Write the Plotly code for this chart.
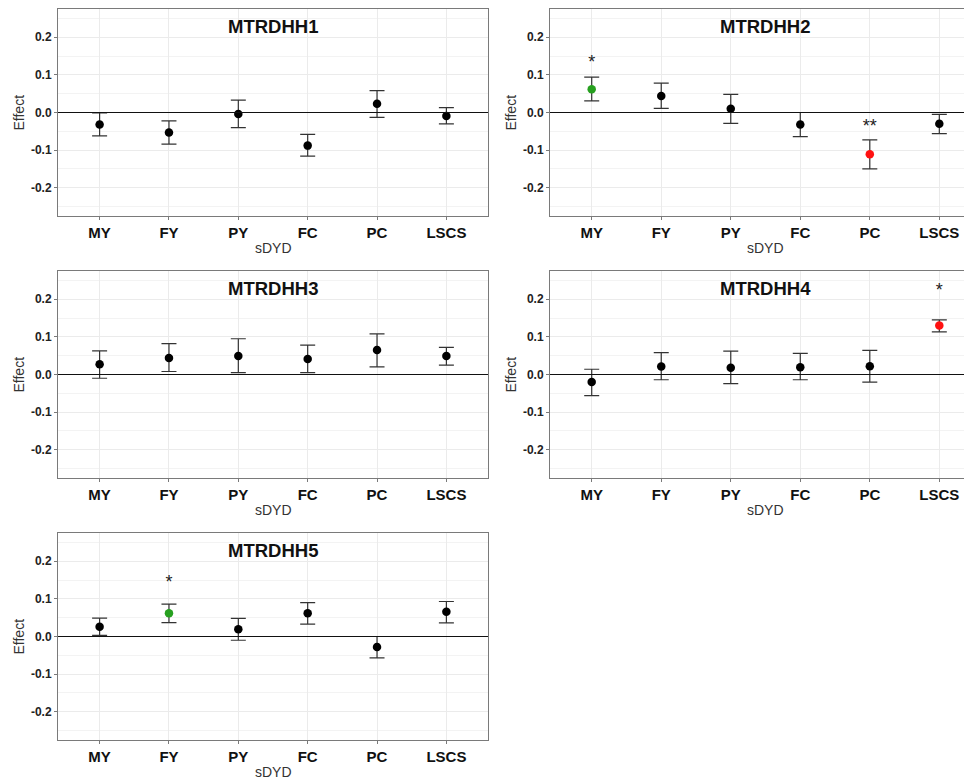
import plotly.graph_objects as go

# ---------------- data ----------------
CATEGORIES = ["MY", "FY", "PY", "FC", "PC", "LSCS"]
PANEL_NAMES = ["MTRDHH1", "MTRDHH2", "MTRDHH3", "MTRDHH4", "MTRDHH5"]

MTRDHH1_EFFECT = [-0.032, -0.053, -0.004, -0.088, 0.023, -0.009]
MTRDHH1_UPPER = [-0.001, -0.022, 0.033, -0.058, 0.058, 0.013]
MTRDHH1_LOWER = [-0.062, -0.084, -0.040, -0.116, -0.013, -0.030]
MTRDHH1_GROUP = ["", "", "", "", "", ""]
MTRDHH1_STAR = ["", "", "", "", "", ""]
MTRDHH1_STAR_Y = [None, None, None, None, None, None]

MTRDHH2_EFFECT = [0.062, 0.044, 0.010, -0.032, -0.111, -0.030]
MTRDHH2_UPPER = [0.094, 0.078, 0.048, 0.000, -0.073, -0.005]
MTRDHH2_LOWER = [0.031, 0.011, -0.029, -0.064, -0.150, -0.056]
MTRDHH2_GROUP = ["pos", "", "", "", "neg", ""]
MTRDHH2_STAR = ["*", "", "", "", "**", ""]
MTRDHH2_STAR_Y = [0.13, None, None, None, -0.04, None]

MTRDHH3_EFFECT = [0.027, 0.044, 0.049, 0.041, 0.065, 0.049]
MTRDHH3_UPPER = [0.063, 0.082, 0.095, 0.078, 0.108, 0.072]
MTRDHH3_LOWER = [-0.010, 0.008, 0.005, 0.005, 0.020, 0.025]
MTRDHH3_GROUP = ["", "", "", "", "", ""]
MTRDHH3_STAR = ["", "", "", "", "", ""]
MTRDHH3_STAR_Y = [None, None, None, None, None, None]

MTRDHH4_EFFECT = [-0.020, 0.021, 0.018, 0.019, 0.022, 0.130]
MTRDHH4_UPPER = [0.014, 0.058, 0.062, 0.056, 0.064, 0.145]
MTRDHH4_LOWER = [-0.056, -0.014, -0.024, -0.014, -0.020, 0.113]
MTRDHH4_GROUP = ["", "", "", "", "", "neg"]
MTRDHH4_STAR = ["", "", "", "", "", "*"]
MTRDHH4_STAR_Y = [None, None, None, None, None, 0.22]

MTRDHH5_EFFECT = [0.026, 0.062, 0.019, 0.062, -0.028, 0.066]
MTRDHH5_UPPER = [0.049, 0.086, 0.048, 0.090, 0.000, 0.093]
MTRDHH5_LOWER = [0.003, 0.037, -0.010, 0.033, -0.057, 0.036]
MTRDHH5_GROUP = ["", "pos", "", "", "", ""]
MTRDHH5_STAR = ["", "*", "", "", "", ""]
MTRDHH5_STAR_Y = [None, 0.14, None, None, None, None]

Y_TICKS = [-0.2, -0.1, 0.0, 0.1, 0.2]
Y_TICK_LABELS = ["-0.2", "-0.1", "0.0", "0.1", "0.2"]
TITLE_Y = 0.228

PANELS = [
    (MTRDHH1_EFFECT, MTRDHH1_UPPER, MTRDHH1_LOWER, MTRDHH1_GROUP, MTRDHH1_STAR, MTRDHH1_STAR_Y),
    (MTRDHH2_EFFECT, MTRDHH2_UPPER, MTRDHH2_LOWER, MTRDHH2_GROUP, MTRDHH2_STAR, MTRDHH2_STAR_Y),
    (MTRDHH3_EFFECT, MTRDHH3_UPPER, MTRDHH3_LOWER, MTRDHH3_GROUP, MTRDHH3_STAR, MTRDHH3_STAR_Y),
    (MTRDHH4_EFFECT, MTRDHH4_UPPER, MTRDHH4_LOWER, MTRDHH4_GROUP, MTRDHH4_STAR, MTRDHH4_STAR_Y),
    (MTRDHH5_EFFECT, MTRDHH5_UPPER, MTRDHH5_LOWER, MTRDHH5_GROUP, MTRDHH5_STAR, MTRDHH5_STAR_Y),
]

# ---------------- style / layout ----------------
PAGE_OFFSET = 8          # default body margin of the html page
W, H = 972 - PAGE_OFFSET, 780 - PAGE_OFFSET
COLOR_MAP = {"": "#000000", "pos": "#27a020", "neg": "#ff1111"}
FONT = "Liberation Sans, Arial, Helvetica, sans-serif"
GRID = "#ebebeb"
MINOR_GRID = "#f3f3f3"
BORDER = "#7a7a7a"

# pixel boxes (left, right, top, bottom) of each panel in page coordinates
BOXES = [
    (58, 488, 9, 216),
    (550, 972, 9, 216),
    (58, 488, 271, 478),
    (550, 972, 271, 478),
    (58, 488, 533, 740),
]
X_RANGES = [
    [-0.6, 5.6],
    [-0.6, 5.47],
    [-0.6, 5.6],
    [-0.6, 5.47],
    [-0.6, 5.6],
]
Y_RANGE = [-0.275, 0.275]


def px(v):
    return v - PAGE_OFFSET


fig = go.Figure()
layout = dict(
    width=W, height=H,
    margin=dict(l=0, r=0, t=0, b=0),
    paper_bgcolor="white", plot_bgcolor="white",
    showlegend=False,
    font=dict(family=FONT, color="#222"),
)
annotations = []
shapes = []

for i, (name, data, box, xr) in enumerate(zip(PANEL_NAMES, PANELS, BOXES, X_RANGES)):
    eff, up, lo, grp, star, star_y = data
    n = i + 1
    xa = "x" if n == 1 else f"x{n}"
    ya = "y" if n == 1 else f"y{n}"
    xkey = "xaxis" if n == 1 else f"xaxis{n}"
    ykey = "yaxis" if n == 1 else f"yaxis{n}"
    l, r, t, b = (px(v) for v in box)
    r = min(r, W)

    err_plus = [u - e for u, e in zip(up, eff)]
    err_minus = [e - d for e, d in zip(eff, lo)]

    fig.add_trace(go.Scatter(
        x=CATEGORIES, y=eff, mode="markers",
        marker=dict(size=8.5, color=[COLOR_MAP[g] for g in grp]),
        error_y=dict(type="data", symmetric=False, array=err_plus, arrayminus=err_minus,
                     color="#333333", thickness=1.2, width=7.5),
        xaxis=xa, yaxis=ya, cliponaxis=False,
    ))

    sx = [c for c, s in zip(CATEGORIES, star) if s]
    sy = [v for v, s in zip(star_y, star) if s]
    st = [s for s in star if s]
    if st:
        fig.add_trace(go.Scatter(
            x=sx, y=sy, mode="text", text=st, textposition="middle center",
            textfont=dict(size=18, color="#222", family=FONT),
            xaxis=xa, yaxis=ya, cliponaxis=False,
        ))

    layout[xkey] = dict(
        domain=[l / W, r / W], anchor=ya, type="category",
        categoryorder="array", categoryarray=CATEGORIES,
        range=xr, showgrid=True, gridcolor=GRID, gridwidth=1,
        showline=True, linecolor=BORDER, linewidth=1, mirror=True,
        ticks="outside", ticklen=3, tickcolor=BORDER,
        tickfont=dict(size=15, color="#111", family=FONT, weight="bold"),
        zeroline=False, fixedrange=True,
    )
    layout[ykey] = dict(
        domain=[1 - b / H, 1 - t / H], anchor=xa,
        range=Y_RANGE, tickvals=Y_TICKS, ticktext=Y_TICK_LABELS,
        showgrid=True, gridcolor=GRID, gridwidth=1,
        minor=dict(tickvals=[-0.25, -0.15, -0.05, 0.05, 0.15, 0.25], showgrid=True,
                   gridcolor=MINOR_GRID, gridwidth=1, ticks=""),
        showline=True, linecolor=BORDER, linewidth=1, mirror=True,
        ticks="outside", ticklen=3, tickcolor=BORDER,
        tickfont=dict(size=12, color="#222", family=FONT, weight="bold"),
        zeroline=False, fixedrange=True,
    )

    shapes.append(dict(type="line", xref=f"{xa} domain", yref=ya, x0=0, x1=1, y0=0, y1=0,
                       line=dict(color="#111", width=1.1), layer="above"))

    cx = (l + r) / 2 if n in (1, 3, 5) else px(765)
    annotations.append(dict(
        text=name, xref="paper", yref=ya, x=cx / W,
        y=TITLE_Y, showarrow=False, xanchor="center", yanchor="middle",
        font=dict(size=18.5, color="#111", family=FONT, weight="bold"),
    ))
    annotations.append(dict(
        text="sDYD", xref="paper", yref="paper", x=cx / W, y=1 - (b + 32) / H,
        showarrow=False, xanchor="center", yanchor="middle",
        font=dict(size=14, color="#333", family=FONT),
    ))
    annotations.append(dict(
        text="Effect", xref="paper", yref="paper", x=(l - 40) / W, y=1 - ((t + b) / 2) / H,
        showarrow=False, xanchor="center", yanchor="middle", textangle=-90,
        font=dict(size=14, color="#333", family=FONT),
    ))

layout["annotations"] = annotations
layout["shapes"] = shapes
fig.update_layout(**layout)
fig.write_html("out.html")
